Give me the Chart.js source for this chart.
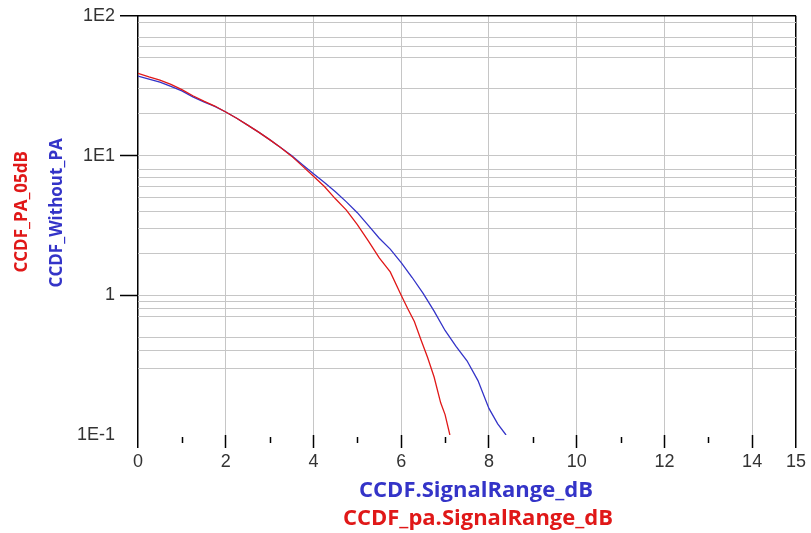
<!DOCTYPE html>
<html>
<head>
<meta charset="utf-8">
<title>CCDF</title>
<script src="https://cdn.jsdelivr.net/npm/chart.js@4/dist/chart.umd.min.js"></script>
<style>
    html, body { margin: 0; padding: 0; background: #fff; }
    #wrap { width: 811px; height: 533px; }
</style>
</head>
<body>
<div id="wrap"><canvas id="ccdf" width="811" height="533"></canvas></div>
<script>
// --- data ---
const paX = [0, 0.25, 0.5, 0.75, 1.0, 1.25, 1.5, 1.75, 2.0, 2.25, 2.5, 2.75, 3.0, 3.25, 3.5, 3.75,
    4.0, 4.25, 4.5, 4.75, 5.0, 5.25, 5.5, 5.75, 6.0, 6.15, 6.3, 6.45, 6.6, 6.75, 6.9, 7.0, 7.11];
const paY = [38.7, 36.5, 34.6, 32.3, 29.6, 26.8, 24.5, 22.6, 20.5, 18.5, 16.5, 14.7, 13.0, 11.4, 9.9, 8.4,
    7.1, 6.0, 4.9, 4.07, 3.2, 2.45, 1.85, 1.47, 1.0, 0.8, 0.65, 0.48, 0.36, 0.26, 0.17, 0.14, 0.1];

const noPaX = [0, 0.25, 0.5, 0.75, 1.0, 1.25, 1.5, 1.75, 2.0, 2.25, 2.5, 2.75, 3.0, 3.25, 3.5, 3.75,
    4.0, 4.25, 4.5, 4.75, 5.0, 5.25, 5.5, 5.75, 6.0, 6.25, 6.5, 6.75, 7.0, 7.25, 7.5, 7.75, 8.0, 8.2, 8.39];
const noPaY = [37.0, 35.2, 33.5, 31.3, 29.0, 26.3, 24.2, 22.5, 20.5, 18.5, 16.5, 14.7, 13.0, 11.4, 10.0, 8.6,
    7.4, 6.4, 5.5, 4.66, 3.9, 3.16, 2.56, 2.14, 1.71, 1.34, 1.03, 0.77, 0.56, 0.43, 0.34, 0.245, 0.155, 0.12, 0.1];

// y grid lines that show in the picture, and the labelled decades
const yGridValues = [0.1, 0.3, 0.4, 0.5, 0.7, 0.8, 0.9, 1, 2, 3, 4, 5, 6, 7, 8, 10, 20, 30, 50, 60, 70, 90, 100];
const yLabelValues = [100, 10, 1, 0.1];
const yLabelTexts = ['1E2', '1E1', '1', '1E-1'];

const xMin = 0, xMax = 15;
const xMinorTicks = [1, 3, 5, 7, 9, 11, 13];

const RED = '#e01818';
const BLUE = '#3434c8';
const GRID = '#c6c6c6';

const toPoints = (xs, ys) => xs.map((x, i) => ({ x: x, y: ys[i] }));

// titles + short minor ticks on the x axis
const axisDecor = {
    id: 'axisDecor',
    afterDraw(chart) {
        const ctx = chart.ctx;
        const area = chart.chartArea;
        const xs = chart.scales.x;

        ctx.save();
        ctx.strokeStyle = '#000';
        ctx.lineWidth = 1.5;
        xMinorTicks.forEach(v => {
            const px = Math.round(xs.getPixelForValue(v)) + 0.5;
            ctx.beginPath();
            ctx.moveTo(px, area.bottom + 2);
            ctx.lineTo(px, area.bottom + 8);
            ctx.stroke();
        });

        ctx.textAlign = 'center';
        ctx.textBaseline = 'middle';

        // x titles
        const cx = (area.left + area.right) / 2 + 9;
        ctx.font = "bold 22px 'Open Sans'";
        ctx.fillStyle = BLUE;
        ctx.fillText('CCDF.SignalRange_dB', cx, area.bottom + 56);
        ctx.fillStyle = RED;
        ctx.fillText('CCDF_pa.SignalRange_dB', cx + 2, area.bottom + 84);

        // y titles (rotated), sit a bit above the middle of the plot
        const cy = area.top + 196;
        ctx.font = "bold 17px 'Open Sans'";
        ctx.translate(22, cy);
        ctx.rotate(-Math.PI / 2);
        ctx.fillStyle = RED;
        ctx.fillText('CCDF_PA_05dB', 0, 0);
        ctx.fillStyle = BLUE;
        ctx.fillText('CCDF_Without_PA', -1, 35);
        ctx.restore();
    }
};

new Chart(document.getElementById('ccdf').getContext('2d'), {
    type: 'line',
    data: {
        datasets: [
            {
                label: 'CCDF_PA_05dB',
                data: toPoints(paX, paY),
                borderColor: RED,
                borderWidth: 1.3,
                pointRadius: 0,
                tension: 0
            },
            {
                label: 'CCDF_Without_PA',
                data: toPoints(noPaX, noPaY),
                borderColor: BLUE,
                borderWidth: 1.3,
                pointRadius: 0,
                tension: 0
            }
        ]
    },
    options: {
        responsive: false,
        animation: false,
        devicePixelRatio: 1,
        layout: { padding: { top: 15, right: 15, left: 0, bottom: 0 } },
        plugins: {
            legend: { display: false },
            tooltip: { enabled: false }
        },
        scales: {
            x: {
                type: 'linear',
                min: xMin,
                max: xMax,
                border: { display: false },
                afterFit: (scale) => { scale.height = 98; },
                grid: {
                    color: (c) => {
                        const v = c.tick.value;
                        if (v === xMin || v === xMax) return '#000';
                        return v % 2 === 0 ? GRID : 'rgba(0,0,0,0)';
                    },
                    lineWidth: (c) => (c.tick.value === xMin || c.tick.value === xMax) ? 1.5 : 1,
                    tickColor: (c) => {
                        const v = c.tick.value;
                        return (v % 2 === 0 || v === xMax) ? '#000' : 'rgba(0,0,0,0)';
                    },
                    tickWidth: 1.5,
                    tickLength: 13
                },
                ticks: {
                    stepSize: 1,
                    autoSkip: false,
                    maxRotation: 0,
                    padding: 3,
                    color: '#333',
                    font: { family: "'Liberation Sans', Arial", size: 18 },
                    callback: (v) => (v % 2 === 0 || v === xMax) ? String(v) : ''
                }
            },
            y: {
                type: 'logarithmic',
                min: 0.1,
                max: 100,
                border: { display: false },
                afterFit: (scale) => { scale.width = 138; },
                afterBuildTicks: (scale) => {
                    scale.ticks = yGridValues.map(v => ({ value: v }));
                },
                grid: {
                    color: (c) => {
                        const v = c.tick.value;
                        if (v === 100) return '#000';
                        if (v === 0.1) return 'rgba(0,0,0,0)';
                        return GRID;
                    },
                    lineWidth: (c) => c.tick.value === 100 ? 1.5 : 1,
                    tickColor: (c) => {
                        const v = c.tick.value;
                        return (v === 100 || v === 10 || v === 1) ? '#000' : 'rgba(0,0,0,0)';
                    },
                    tickWidth: 1.5,
                    tickLength: 18
                },
                ticks: {
                    autoSkip: false,
                    padding: 5,
                    color: '#333',
                    font: { family: "'Liberation Sans', Arial", size: 18 },
                    callback: (v) => {
                        const i = yLabelValues.indexOf(v);
                        return i >= 0 ? yLabelTexts[i] : '';
                    }
                }
            }
        }
    },
    plugins: [axisDecor]
});
</script>
</body>
</html>
